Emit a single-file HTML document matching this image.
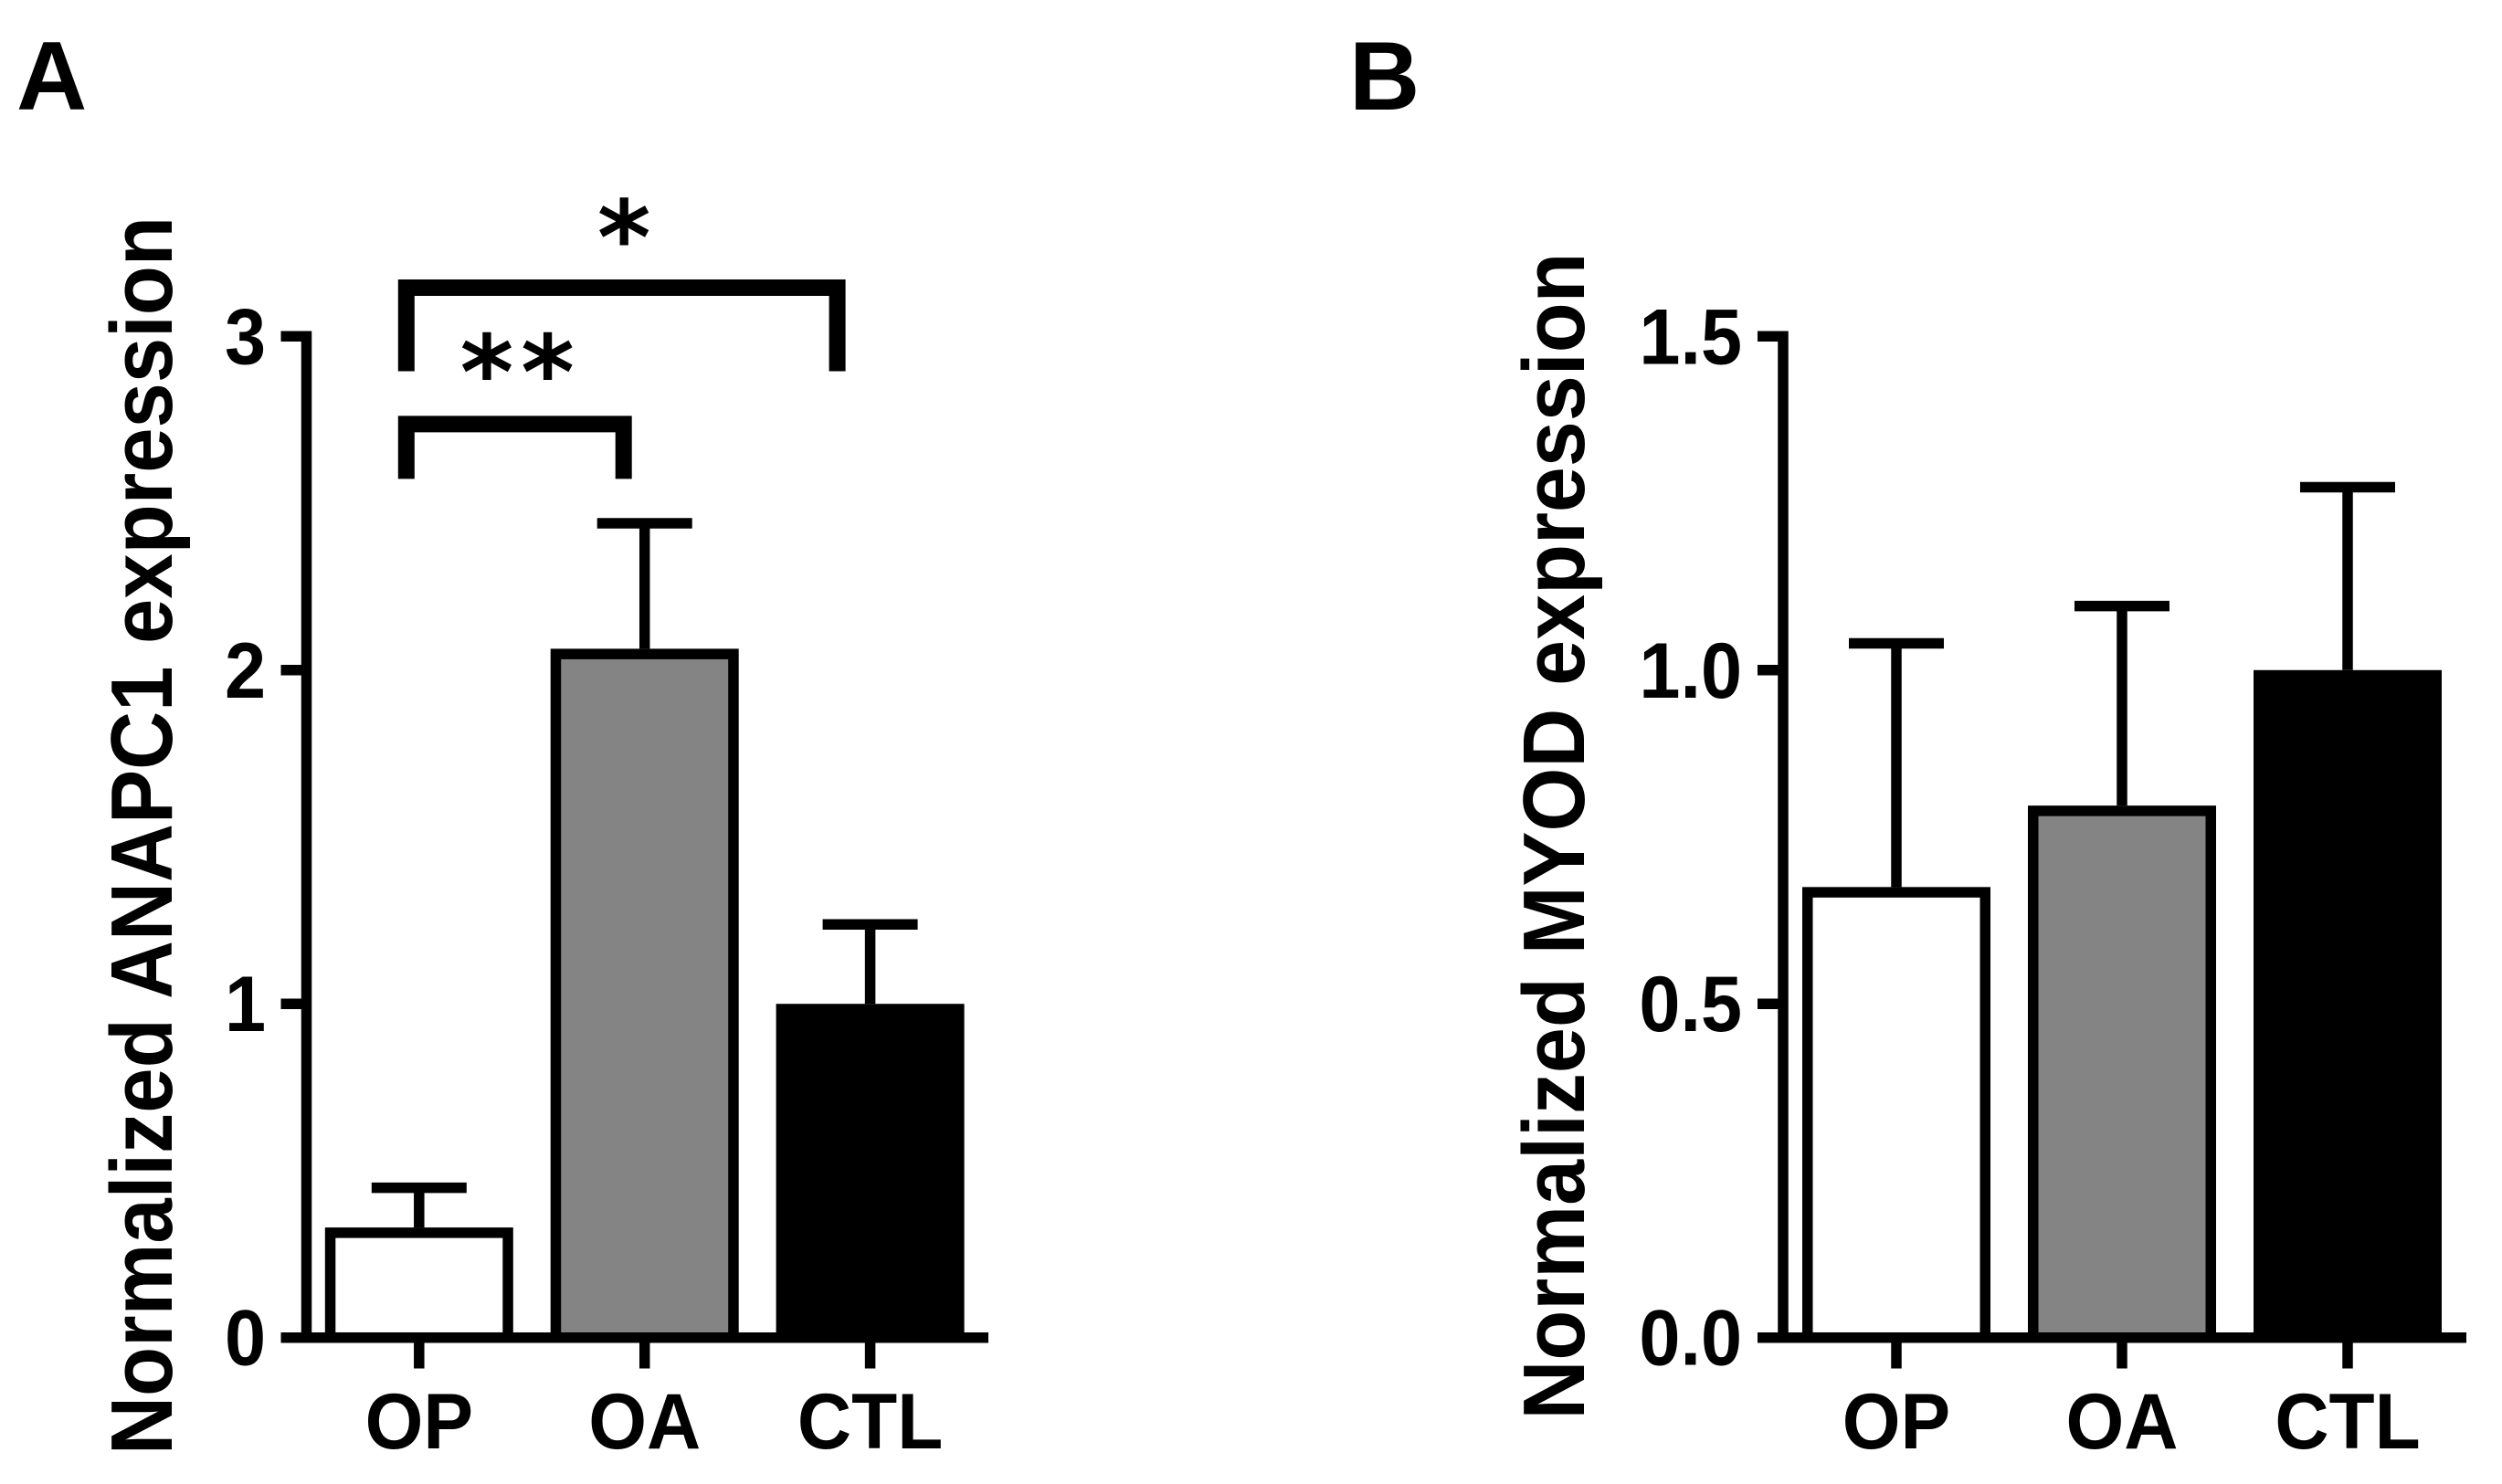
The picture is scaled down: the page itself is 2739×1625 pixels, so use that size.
<!DOCTYPE html>
<html lang="en">
<head>
<meta charset="utf-8">
<title>Normalized ANAPC1 and MYOD expression</title>
<style>
  html, body { margin: 0; padding: 0; background: #fff; }
  body { width: 2739px; height: 1625px; overflow: hidden; }
  svg { display: block; }
  text { font-family: "Liberation Sans", Arial, sans-serif; font-weight: bold; fill: #000; }
</style>
</head>
<body>
<svg id="figure" xmlns="http://www.w3.org/2000/svg" width="2739" height="1625" viewBox="0 0 2739 1625">
  <rect x="0" y="0" width="2739" height="1625" fill="#fff"/>
  <text x="18" y="120" font-size="107">A</text>
  <text x="1477" y="120" font-size="107">B</text>
  <text text-anchor="middle" font-size="88" textLength="1356" lengthAdjust="spacingAndGlyphs" transform="translate(188 915) rotate(-90) scale(1 1.09)">Normalized ANAPC1 expression</text>
  <text text-anchor="middle" font-size="88" textLength="1278" lengthAdjust="spacingAndGlyphs" transform="translate(1734 915.5) rotate(-90) scale(1 1.09)">Normalized MYOD expression</text>
  <g id="panel-a"></g>
  <g id="panel-b"></g>
</svg>
<script>
const categories = ['OP', 'OA', 'CTL'];
const anapc1Values = [0.33, 2.064, 1.0];
const anapc1Errors = [0.119, 0.376, 0.238];
const anapc1Ticks = [0, 1, 2, 3];
const anapc1TickLabels = ['0', '1', '2', '3'];
const myodValues = [0.675, 0.797, 1.0];
const myodErrors = [0.365, 0.299, 0.274];
const myodTicks = [0, 0.5, 1.0, 1.5];
const myodTickLabels = ['0.0', '0.5', '1.0', '1.5'];
const anapc1BracketLevels = [2.737, 3.146];
const anapc1BracketLabels = ['**', '*'];

const barFills = ['#ffffff', '#848484', '#000000'];
const NS = 'http://www.w3.org/2000/svg';
const STROKE = 11.5;
const Y0 = 1464.7;
const Y_TOP = 368.3;

function make(tag, attrs, parent) {
  const el = document.createElementNS(NS, tag);
  for (const k in attrs) el.setAttribute(k, attrs[k]);
  parent.appendChild(el);
  return el;
}

function drawPanel(root, o) {
  const y = v => Y0 - (v / o.max) * (Y0 - Y_TOP);
  const x = i => o.x0 + i * o.step;

  o.values.forEach((v, i) => {
    const cx = x(i);
    const top = y(v + o.errors[i]);
    const stem = make('line', { x1: cx, x2: cx, y1: top, y2: y(v), stroke: '#000', 'stroke-width': 11.5 }, root);
    
    
    const cap = make('line', { x1: cx - o.capHalf, x2: cx + o.capHalf, y1: top, y2: top, stroke: '#000', 'stroke-width': 11.5 }, root);
    
    
    const bar = make('rect', {
      x: cx - o.barHalf + STROKE / 2,
      y: y(v) + STROKE / 2,
      width: 2 * o.barHalf - STROKE,
      height: Math.max(0, Y0 - y(v) - STROKE / 2),
      fill: barFills[i],
      stroke: '#000',
      'stroke-width': STROKE
    }, root);
    
    
  });

  const yAxis = make('line', { x1: o.axisX, x2: o.axisX, y1: Y_TOP - 5.75, y2: Y0, stroke: '#000', 'stroke-width': 11.5 }, root);
  
  
  const xAxis = make('line', { x1: o.axisX - 28, x2: o.axisEnd, y1: Y0, y2: Y0, stroke: '#000', 'stroke-width': 11.5 }, root);
  
  

  o.ticks.forEach((t, i) => {
    const tick = make('line', { x1: o.axisX - 28, x2: o.axisX, y1: y(t), y2: y(t), stroke: '#000', 'stroke-width': 11.5 }, root);
    
    
    const label = make('text', { 'text-anchor': 'end', 'font-size': 81, transform: 'translate(' + o.labelRight + ' ' + (y(t) + 30) + ') scale(1 1.06)' }, root);
    label.textContent = o.tickLabels[i];
    
    
  });

  categories.forEach((c, i) => {
    const cx = x(i);
    const tick = make('line', { x1: cx, x2: cx, y1: Y0, y2: 1498.5, stroke: '#000', 'stroke-width': 11.5 }, root);
    
    
    const label = make('text', { 'text-anchor': 'middle', 'font-size': 82, transform: 'translate(' + cx + ' 1586) scale(1 1.05)' }, root);
    label.textContent = c;
    
    
  });

  return { x, y };
}

const scalesA = drawPanel(document.getElementById('panel-a'), {
  values: anapc1Values, errors: anapc1Errors, ticks: anapc1Ticks, tickLabels: anapc1TickLabels,
  max: 3, x0: 458.8, step: 246.9, barHalf: 103, capHalf: 52, axisX: 335.5, axisEnd: 1082, labelRight: 291
});

drawPanel(document.getElementById('panel-b'), {
  values: myodValues, errors: myodErrors, ticks: myodTicks, tickLabels: myodTickLabels,
  max: 1.5, x0: 2076, step: 247, barHalf: 103, capHalf: 52, axisX: 1952, axisEnd: 2700, labelRight: 1907
});

const panelA = document.getElementById('panel-a');
const bracketEnds = [[0, 1], [0, 2]];
const bracketRightInset = [23, 36];
anapc1BracketLevels.forEach((level, i) => {
  const left = scalesA.x(bracketEnds[i][0]) - 14;
  const right = scalesA.x(bracketEnds[i][1]) - bracketRightInset[i];
  const top = scalesA.y(level);
  const legDrop = i === 0 ? 60 : 91.5;
  const bracket = make('path', {
    d: 'M' + left + ' ' + (top + legDrop) + 'V' + top + 'H' + right + 'V' + (top + legDrop),
    fill: 'none', stroke: '#000', 'stroke-width': 18, 'stroke-linejoin': 'miter'
  }, panelA);
  
  
  const star = make('text', {
    x: (left + right) / 2 + (i === 0 ? 6.5 : 2.5),
    y: top + (i === 0 ? -17 : -15),
    'text-anchor': 'middle',
    'font-size': 112,
    'letter-spacing': i === 0 ? 8 : 0
  }, panelA);
  star.textContent = anapc1BracketLabels[i];
  star.style.fontFamily = '"DejaVu Sans", sans-serif';
  star.style.fontWeight = 'bold';
  
  
});
</script>
</body>
</html>
